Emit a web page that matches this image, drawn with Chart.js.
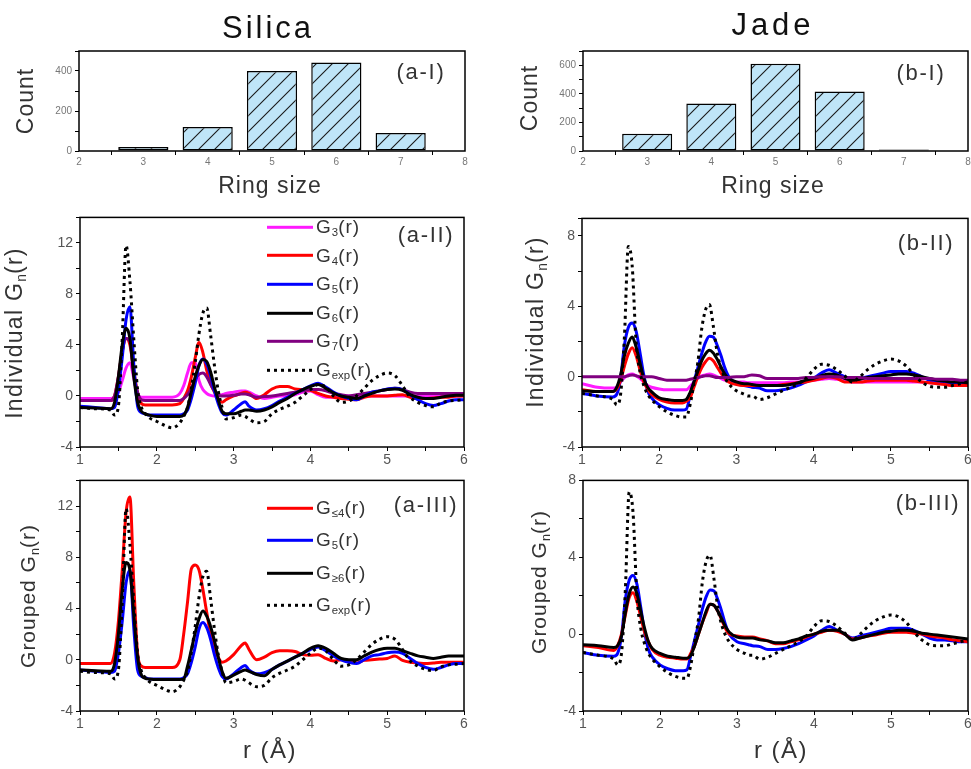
<!DOCTYPE html>
<html lang="en">
<head>
<meta charset="UTF-8">
<title>Ring statistics and G(r) - Silica vs Jade</title>
<script src="https://cdn.jsdelivr.net/npm/chart.js"></script>
<style>
    body {
        margin: 0;
        width: 971px;
        height: 769px;
        overflow: hidden;
        position: relative;
        background: #fff;
        font-family: "Liberation Sans", Arial, sans-serif;
    }
    canvas { position: absolute; }
    .lbl {
        position: absolute;
        transform: translate(-50%, -50%);
        white-space: nowrap;
        color: #333;
        line-height: 1;
    }
    .rot { transform: translate(-50%, -50%) rotate(-90deg); }
    .title { font-size: 31px; color: #111; }
    .axt { font-size: 23px; letter-spacing: 1px; }
    .tag { font-size: 22px; letter-spacing: 1.7px; }
    .leg {
        position: absolute;
        display: flex;
        align-items: center;
        font-size: 19px;
        letter-spacing: 1px;
        color: #333;
        white-space: nowrap;
        transform: translateY(-50%);
    }
    .sw { width: 46px; height: 3px; margin-right: 3px; }
    .dots { background: repeating-linear-gradient(90deg, #000 0 3px, transparent 3px 7px); }
    sub { font-size: 60%; vertical-align: -0.3em; letter-spacing: 0; }
</style>
</head>
<body>
<canvas id="cAI"></canvas>
<canvas id="cBI"></canvas>
<canvas id="cAII"></canvas>
<canvas id="cBII"></canvas>
<canvas id="cAIII"></canvas>
<canvas id="cBIII"></canvas>

<div class="lbl title" style="left:268px;top:27px;letter-spacing:3px">Silica</div>
<div class="lbl title" style="left:773px;top:24px;letter-spacing:4px">Jade</div>

<div class="lbl axt rot" style="left:25px;top:101px">Count</div>
<div class="lbl axt rot" style="left:529px;top:98px">Count</div>
<div class="lbl axt" style="left:270px;top:185px">Ring size</div>
<div class="lbl axt" style="left:773px;top:185px">Ring size</div>
<div class="lbl axt rot" style="left:16px;top:333px;letter-spacing:1.3px">Individual G<sub>n</sub>(r)</div>
<div class="lbl axt rot" style="left:537px;top:322px;letter-spacing:1.3px">Individual G<sub>n</sub>(r)</div>
<div class="lbl axt rot" style="left:29px;top:596px;font-size:21px">Grouped G<sub>n</sub>(r)</div>
<div class="lbl axt rot" style="left:540px;top:582px;font-size:21px">Grouped G<sub>n</sub>(r)</div>
<div class="lbl axt" style="left:270px;top:750px;font-size:24px;letter-spacing:1.5px">r (&#197;)</div>
<div class="lbl axt" style="left:781px;top:750px;font-size:24px;letter-spacing:1.5px">r (&#197;)</div>

<div class="lbl tag" style="left:421px;top:72px">(a-I)</div>
<div class="lbl tag" style="left:921px;top:73px">(b-I)</div>
<div class="lbl tag" style="left:426px;top:235px">(a-II)</div>
<div class="lbl tag" style="left:926px;top:243px">(b-II)</div>
<div class="lbl tag" style="left:426px;top:505px">(a-III)</div>
<div class="lbl tag" style="left:928px;top:503px">(b-III)</div>

<div id="legends"></div>

<script>
// ring statistics
const ringSizes = [3, 4, 5, 6, 7];
const silicaCounts = [20, 120, 400, 443, 90];
const jadeCounts = [120, 333, 610, 416, 10];

// r grid (Å) shared by all G(r) curves
const rGrid = [1.0, 1.2, 1.4, 1.45, 1.5, 1.55, 1.6, 1.65, 1.7, 1.75,
    1.8, 1.85, 1.9, 2.0, 2.1, 2.2, 2.3, 2.35, 2.4, 2.45,
    2.5, 2.55, 2.6, 2.65, 2.7, 2.75, 2.8, 2.85, 2.9, 3.0,
    3.1, 3.15, 3.2, 3.3, 3.4, 3.5, 3.6, 3.7, 3.8, 3.9,
    4.0, 4.1, 4.2, 4.3, 4.4, 4.5, 4.6, 4.7, 4.8, 4.9,
    5.0, 5.1, 5.2, 5.3, 5.4, 5.5, 5.6, 5.7, 5.8, 5.9,
    6.0];

// Silica
const silicaExp = [-0.9, -1.0, -1.1, -1.5, -0.8, 4.5, 11.8, 9.0, 4.5, 0.5,
    -0.9, -1.4, -1.7, -2.0, -2.3, -2.5, -2.1, -1.6, -0.9, 0.6,
    2.6, 4.9, 6.5, 6.9, 4.8, 2.4, 0.4, -0.9, -1.8, -1.7,
    -1.5, -1.6, -1.8, -2.1, -2.0, -1.4, -1.05, -0.8, -0.5, 0.0,
    0.5, 0.9, 0.7, 0.0, -0.5, -0.4, 0.0, 0.6, 1.2, 1.6,
    1.8, 1.6, 0.8, -0.1, -0.5, -0.75, -0.85, -0.55, -0.4, -0.35,
    -0.3];
const silicaG3 = [-0.2, -0.2, -0.2, -0.1, 0.3, 1.2, 2.2, 2.6, 1.4, 0.1,
    -0.1, -0.1, -0.1, -0.1, -0.1, -0.1, 0.2, 0.8, 1.8, 2.6,
    2.6, 1.2, 0.5, 0.2, 0.05, 0.0, 0.05, 0.1, 0.2, 0.3,
    0.4, 0.4, 0.3, 0.0, -0.2, -0.1, 0.0, 0.0, 0.1, 0.3,
    0.4, 0.1, -0.1, -0.1, 0.0, 0.0, 0.0, 0.0, 0.0, 0.0,
    0.0, 0.0, 0.0, 0.0, 0.0, 0.0, 0.0, 0.0, 0.0, 0.0,
    0.0];
const silicaG4 = [-0.35, -0.35, -0.35, 0.0, 1.5, 3.5, 4.5, 4.0, 2.0, 0.2,
    -0.6, -0.7, -0.7, -0.7, -0.7, -0.7, -0.6, -0.2, 0.4, 1.5,
    3.0, 4.2, 3.4, 2.0, 1.0, 0.3, -0.2, -0.5, -0.3, 0.0,
    0.2, 0.3, 0.2, -0.2, 0.1, 0.55, 0.75, 0.75, 0.55, 0.5,
    0.45, 0.2, 0.0, -0.1, -0.2, -0.25, -0.3, -0.1, 0.0, 0.0,
    0.0, 0.05, 0.1, -0.1, -0.2, -0.2, -0.15, -0.1, -0.1, 0.0,
    0.0];
const silicaG5 = [-0.8, -0.9, -1.0, -0.9, 0.5, 3.0, 6.0, 7.0, 2.5, -0.8,
    -1.3, -1.4, -1.5, -1.5, -1.5, -1.5, -1.5, -1.4, -1.1, -0.2,
    1.0, 2.4, 2.9, 2.5, 1.6, 0.4, -0.6, -1.3, -1.5, -1.1,
    -0.6, -0.45, -0.8, -1.1, -1.0, -0.75, -0.4, -0.1, 0.2, 0.5,
    0.8, 1.0, 0.7, 0.3, 0.0, -0.2, -0.3, 0.0, 0.3, 0.4,
    0.55, 0.6, 0.5, 0.1, -0.3, -0.6, -0.75, -0.6, -0.4, -0.3,
    -0.3];
const silicaG6 = [-0.9, -0.95, -1.0, -0.5, 1.5, 4.0, 5.3, 4.5, 1.5, -0.5,
    -1.2, -1.4, -1.5, -1.6, -1.6, -1.6, -1.6, -1.5, -0.9, 0.3,
    1.5, 2.4, 2.85, 2.7, 1.9, 0.7, -0.3, -1.2, -1.4, -1.4,
    -1.2, -1.1, -1.1, -1.2, -1.1, -0.85, -0.5, -0.2, 0.2, 0.5,
    0.75, 0.9, 0.6, 0.25, 0.0, -0.1, -0.2, 0.0, 0.2, 0.4,
    0.5, 0.55, 0.45, 0.1, -0.1, -0.2, -0.2, -0.1, 0.0, 0.05,
    0.05];
const silicaG7 = [-0.35, -0.35, -0.35, 0.0, 1.5, 3.5, 4.5, 4.3, 1.8, 0.3,
    -0.3, -0.35, -0.35, -0.35, -0.35, -0.35, -0.35, -0.2, 0.1, 0.6,
    1.3, 1.7, 1.8, 1.5, 0.9, 0.4, 0.05, 0.0, 0.0, 0.05,
    0.15, 0.15, 0.1, -0.1, -0.05, 0.0, 0.1, 0.2, 0.3, 0.4,
    0.5, 0.5, 0.4, 0.2, 0.1, 0.0, 0.1, 0.2, 0.3, 0.4,
    0.5, 0.6, 0.5, 0.3, 0.2, 0.2, 0.2, 0.2, 0.2, 0.2,
    0.2];
const silicaGle4 = [-0.3, -0.3, -0.3, 0.5, 3.0, 7.0, 11.5, 12.7, 6.0, 0.5,
    -0.5, -0.6, -0.6, -0.6, -0.6, -0.6, 0.0, 2.0, 4.5, 7.1,
    7.4, 7.0, 5.5, 3.7, 2.0, 0.9, 0.2, -0.2, -0.1, 0.4,
    1.1, 1.3, 0.8, 0.0, 0.2, 0.55, 0.7, 0.7, 0.65, 0.4,
    0.35, 0.4, 0.1, -0.1, 0.0, -0.05, -0.25, -0.05, 0.0, 0.05,
    0.1, 0.3, -0.05, -0.2, -0.25, -0.3, -0.25, -0.2, -0.2, -0.2,
    -0.2];
const silicaGge6 = [-0.8, -0.85, -0.9, -0.3, 2.0, 5.5, 7.6, 7.0, 3.5, 0.2,
    -1.2, -1.45, -1.5, -1.55, -1.55, -1.55, -1.55, -1.5, -0.5, 0.8,
    2.1, 3.2, 3.8, 3.4, 2.6, 1.5, 0.2, -0.9, -1.45, -1.2,
    -0.9, -0.8, -0.9, -1.15, -1.25, -0.75, -0.4, -0.1, 0.2, 0.5,
    0.9, 1.1, 0.9, 0.5, 0.1, 0.0, 0.0, 0.3, 0.6, 0.8,
    0.9, 0.9, 0.7, 0.5, 0.3, 0.2, 0.1, 0.2, 0.3, 0.3,
    0.3];

// Jade
const jadeExp = [-0.95, -1.1, -1.3, -1.6, -1.0, 2.3, 7.4, 6.3, 2.0, 0.3,
    -0.5, -1.0, -1.3, -1.7, -2.0, -2.2, -2.3, -2.3, -1.6, -0.4,
    0.8, 2.7, 3.8, 4.1, 2.9, 1.4, 0.5, -0.05, -0.4, -0.8,
    -1.0, -1.1, -1.1, -1.3, -1.2, -1.0, -0.8, -0.6, -0.4, -0.1,
    0.4, 0.7, 0.65, 0.4, 0.05, -0.3, 0.0, 0.4, 0.7, 0.9,
    1.0, 0.9, 0.6, 0.1, -0.3, -0.55, -0.6, -0.6, -0.5, -0.4,
    -0.3];
const jadeG3 = [-0.4, -0.6, -0.65, -0.6, -0.3, -0.05, 0.1, 0.15, 0.05, -0.1,
    -0.3, -0.5, -0.6, -0.7, -0.75, -0.75, -0.75, -0.75, -0.55, -0.3,
    -0.1, 0.05, 0.1, 0.15, 0.1, 0.0, -0.1, -0.2, -0.25, -0.3,
    -0.3, -0.35, -0.35, -0.35, -0.35, -0.35, -0.35, -0.3, -0.3, -0.25,
    -0.2, -0.15, -0.1, -0.15, -0.2, -0.3, -0.3, -0.3, -0.3, -0.3,
    -0.3, -0.3, -0.3, -0.3, -0.3, -0.35, -0.35, -0.4, -0.4, -0.4,
    -0.4];
const jadeG4 = [-0.75, -0.85, -0.85, -0.7, -0.2, 0.6, 1.3, 1.65, 1.2, 0.4,
    -0.3, -0.7, -1.0, -1.3, -1.45, -1.5, -1.5, -1.4, -1.2, -0.6,
    0.0, 0.5, 0.85, 1.05, 0.9, 0.55, 0.2, -0.1, -0.3, -0.45,
    -0.5, -0.5, -0.5, -0.5, -0.5, -0.5, -0.45, -0.4, -0.35, -0.3,
    -0.2, -0.1, 0.0, -0.1, -0.3, -0.3, -0.3, -0.25, -0.2, -0.2,
    -0.2, -0.2, -0.2, -0.25, -0.3, -0.35, -0.4, -0.45, -0.5, -0.5,
    -0.5];
const jadeG5 = [-0.95, -1.1, -1.15, -1.0, -0.1, 1.8, 2.8, 3.05, 2.6, 1.4,
    0.1, -0.8, -1.2, -1.6, -1.8, -1.9, -1.9, -1.85, -1.1, -0.3,
    0.5, 1.3, 1.95, 2.3, 2.25, 1.8, 1.2, 0.5, 0.0, -0.4,
    -0.5, -0.55, -0.6, -0.65, -0.8, -0.8, -0.75, -0.65, -0.5, -0.3,
    -0.1, 0.2, 0.4, 0.2, 0.0, -0.2, -0.1, 0.0, 0.1, 0.2,
    0.3, 0.3, 0.3, 0.2, 0.0, -0.2, -0.3, -0.3, -0.35, -0.4,
    -0.4];
const jadeG6 = [-0.8, -0.85, -0.85, -0.6, 0.1, 1.2, 1.9, 2.25, 1.7, 0.8,
    -0.1, -0.6, -0.85, -1.2, -1.3, -1.35, -1.35, -1.3, -0.9, -0.3,
    0.3, 0.9, 1.3, 1.5, 1.35, 1.0, 0.55, 0.15, -0.1, -0.3,
    -0.4, -0.4, -0.45, -0.5, -0.5, -0.5, -0.5, -0.45, -0.35, -0.2,
    -0.1, 0.05, 0.15, 0.1, -0.1, -0.2, -0.15, -0.05, 0.0, 0.05,
    0.1, 0.15, 0.15, 0.1, 0.0, -0.1, -0.2, -0.25, -0.3, -0.3,
    -0.35];
const jadeG7 = [0.0, 0.0, 0.0, 0.0, 0.0, 0.0, 0.05, 0.1, 0.05, 0.0,
    0.0, 0.0, 0.0, -0.1, -0.2, -0.2, -0.2, -0.2, -0.15, -0.1,
    -0.05, 0.0, 0.05, 0.05, 0.0, -0.05, -0.05, -0.05, -0.05, 0.0,
    0.0, 0.05, 0.1, 0.05, -0.1, -0.1, -0.1, -0.1, -0.1, -0.05,
    -0.05, 0.0, 0.0, 0.0, -0.05, -0.05, -0.05, -0.1, -0.1, -0.1,
    -0.1, -0.1, -0.1, -0.1, -0.1, -0.1, -0.15, -0.15, -0.15, -0.2,
    -0.2];
const jadeGle4 = [-0.6, -0.7, -0.85, -0.6, 0.0, 1.0, 1.9, 2.15, 1.7, 0.9,
    0.1, -0.4, -0.8, -1.1, -1.2, -1.25, -1.3, -1.3, -1.0, -0.6,
    0.0, 0.6, 1.1, 1.55, 1.5, 1.2, 0.75, 0.3, 0.0, -0.1,
    -0.15, -0.15, -0.15, -0.25, -0.35, -0.5, -0.5, -0.4, -0.3, -0.15,
    0.0, 0.1, 0.2, 0.15, 0.0, -0.25, -0.2, -0.1, -0.05, 0.05,
    0.1, 0.1, 0.1, 0.05, 0.0, -0.1, -0.15, -0.2, -0.3, -0.35,
    -0.4];
const jadeGge6 = [-0.55, -0.6, -0.7, -0.6, -0.1, 1.1, 2.1, 2.45, 2.1, 1.2,
    0.3, -0.4, -0.75, -1.0, -1.15, -1.2, -1.25, -1.25, -1.1, -0.6,
    0.0, 0.6, 1.2, 1.55, 1.5, 1.2, 0.8, 0.4, 0.1, -0.15,
    -0.2, -0.2, -0.2, -0.3, -0.35, -0.45, -0.45, -0.35, -0.25, -0.1,
    0.0, 0.15, 0.2, 0.2, 0.0, -0.3, -0.2, -0.1, 0.0, 0.1,
    0.15, 0.2, 0.2, 0.15, 0.05, 0.0, -0.05, -0.1, -0.15, -0.2,
    -0.25];

const MAGENTA = '#ff1aff', RED = '#ff0000', BLUE = '#0000ff', BLACK = '#000000', PURPLE = '#800080';

Chart.defaults.font.family = '"Liberation Sans", Arial, sans-serif';
Chart.defaults.animation = false;

// layout of each canvas around its plot box
const YW = 44, PT = 10, PR = 14, XH = 26;

function placeCanvas(id, box) {
    const [L, T, R, B] = box;
    const c = document.getElementById(id);
    c.width = R - L + YW + PR;
    c.height = B - T + PT + XH;
    c.style.left = (L - YW) + 'px';
    c.style.top = (T - PT) + 'px';
    return c;
}

// black frame around the plot area
const framePlugin = {
    id: 'frame',
    afterDatasetsDraw(chart) {
        const a = chart.chartArea, ctx = chart.ctx;
        ctx.save();
        ctx.strokeStyle = '#000';
        ctx.lineWidth = 1.5;
        ctx.strokeRect(a.left, a.top, a.right - a.left, a.bottom - a.top);
        ctx.restore();
    }
};

function every(n) {
    return v => (Math.abs(v / n - Math.round(v / n)) < 1e-6 ? v : '');
}

function scales(xr, yr, tickFont, tickColor) {
    return {
        x: {
            type: 'linear', min: xr[0], max: xr[1], offset: false,
            border: { display: false },
            grid: { drawOnChartArea: false, color: '#000', tickLength: 4, tickWidth: 1 },
            ticks: { stepSize: xr[2], callback: every(1), font: { size: tickFont }, color: tickColor, padding: 1, maxRotation: 0, autoSkip: false },
            afterFit: s => { s.height = XH; }
        },
        y: {
            min: yr[0], max: yr[1],
            border: { display: false },
            grid: { drawOnChartArea: false, color: '#000', tickLength: 4, tickWidth: 1 },
            ticks: { stepSize: yr[2], callback: every(yr[3]), font: { size: tickFont }, color: tickColor, padding: 3, autoSkip: false },
            afterFit: s => { s.width = YW; }
        }
    };
}

function hatchPattern() {
    const p = document.createElement('canvas');
    p.width = p.height = 16;
    const g = p.getContext('2d');
    g.fillStyle = '#bfe5f8';
    g.fillRect(0, 0, 16, 16);
    g.strokeStyle = '#1a1a1a';
    g.lineWidth = 1.1;
    g.beginPath();
    g.moveTo(0, 16); g.lineTo(16, 0);
    g.moveTo(-4, 4); g.lineTo(4, -4);
    g.moveTo(12, 20); g.lineTo(20, 12);
    g.stroke();
    return g.createPattern(p, 'repeat');
}

function histogram(id, box, counts, yMax) {
    new Chart(placeCanvas(id, box), {
        type: 'bar',
        data: {
            datasets: [{
                data: ringSizes.map((x, i) => ({ x: x, y: counts[i] })),
                backgroundColor: hatchPattern(),
                borderColor: '#000',
                borderWidth: 1.5,
                borderSkipped: false,
                barPercentage: 0.78,
                categoryPercentage: 1
            }]
        },
        options: {
            responsive: false,
            layout: { padding: { top: PT, right: PR, left: 0, bottom: 0 } },
            plugins: { legend: { display: false }, tooltip: { enabled: false } },
            scales: scales([2, 8, 1], [0, yMax, 100, 200], 10, '#777')
        },
        plugins: [framePlugin]
    });
}

function curve(values, color, dotted) {
    return {
        data: rGrid.map((r, i) => ({ x: r, y: values[i] })),
        borderColor: color,
        borderWidth: 3,
        borderDash: dotted ? [3, 4] : [],
        borderCapStyle: 'butt',
        pointRadius: 0,
        cubicInterpolationMode: 'monotone',
        fill: false
    };
}

function gPanel(id, box, yr, datasets) {
    new Chart(placeCanvas(id, box), {
        type: 'line',
        data: { datasets: datasets },
        options: {
            responsive: false,
            layout: { padding: { top: PT, right: PR, left: 0, bottom: 0 } },
            plugins: { legend: { display: false }, tooltip: { enabled: false } },
            scales: scales([1, 6, 0.5], yr, 14, '#555')
        },
        plugins: [framePlugin]
    });
}

histogram('cAI', [79, 51, 465, 151], silicaCounts, 500);
histogram('cBI', [583, 51, 968, 151], jadeCounts, 700);

// first dataset is drawn on top
gPanel('cAII', [80, 216, 464, 447], [-4, 14, 2, 4], [
    curve(silicaExp, BLACK, true),
    curve(silicaG6, BLACK),
    curve(silicaG5, BLUE),
    curve(silicaG7, PURPLE),
    curve(silicaG4, RED),
    curve(silicaG3, MAGENTA)
]);
gPanel('cBII', [582, 217, 968, 447], [-4, 9, 2, 4], [
    curve(jadeExp, BLACK, true),
    curve(jadeG7, PURPLE),
    curve(jadeG6, BLACK),
    curve(jadeG4, RED),
    curve(jadeG5, BLUE),
    curve(jadeG3, MAGENTA)
]);
gPanel('cAIII', [80, 479, 464, 711], [-4, 14, 2, 4], [
    curve(silicaExp, BLACK, true),
    curve(silicaGge6, BLACK),
    curve(silicaG5, BLUE),
    curve(silicaGle4, RED)
]);
gPanel('cBIII', [583, 479, 968, 711], [-4, 8, 2, 4], [
    curve(jadeExp, BLACK, true),
    curve(jadeGge6, BLACK),
    curve(jadeGle4, RED),
    curve(jadeG5, BLUE)
]);

// legends (html, for the subscripts)
function addLegend(x, ys, items) {
    const host = document.getElementById('legends');
    items.forEach((it, i) => {
        const row = document.createElement('div');
        row.className = 'leg';
        row.style.left = x + 'px';
        row.style.top = ys[i] + 'px';
        const sw = document.createElement('span');
        sw.className = 'sw' + (it.dotted ? ' dots' : '');
        if (!it.dotted) sw.style.background = it.color;
        const txt = document.createElement('span');
        txt.innerHTML = 'G<sub>' + it.sub + '</sub>(r)';
        row.appendChild(sw);
        row.appendChild(txt);
        host.appendChild(row);
    });
}

addLegend(267, [227, 255.6, 284.2, 312.8, 341.4, 370], [
    { sub: '3', color: MAGENTA },
    { sub: '4', color: RED },
    { sub: '5', color: BLUE },
    { sub: '6', color: BLACK },
    { sub: '7', color: PURPLE },
    { sub: 'exp', dotted: true }
]);
addLegend(267, [508, 540, 573, 605], [
    { sub: '&le;4', color: RED },
    { sub: '5', color: BLUE },
    { sub: '&ge;6', color: BLACK },
    { sub: 'exp', dotted: true }
]);
</script>
</body>
</html>
